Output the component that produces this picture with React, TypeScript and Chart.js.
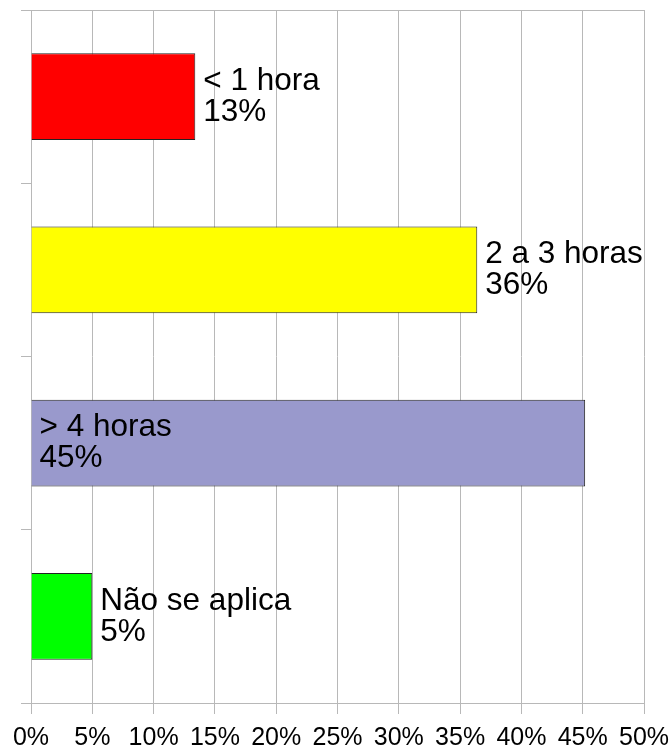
import React, { useEffect, useRef } from "react";
import { Chart, registerables } from "chart.js";

Chart.register(...registerables);

const categories = ["< 1 hora", "2 a 3 horas", "> 4 horas", "Não se aplica"];
const values = [13.4, 36.4, 45.2, 5.0];
const barColors = ["#ff0000", "#ffff00", "#9999cc", "#00ff00"];
const xTicks = [0, 5, 10, 15, 20, 25, 30, 35, 40, 45, 50];

const FONT = "'Liberation Sans', Arial, sans-serif";
const GRID = "#b8b8b8";
const VIEW_W = 672;
const VIEW_H = 746;

const labelPlugin = {
  id: "barLabels",
  afterDatasetsDraw(chart: any) {
    const ctx = chart.ctx;
    const meta = chart.getDatasetMeta(0);
    ctx.save();
    ctx.font = `31.5px ${FONT}`;
    ctx.fillStyle = "#000";
    ctx.textBaseline = "middle";
    ctx.textAlign = "left";
    meta.data.forEach((bar: any, i: number) => {
      const lines = [categories[i], Math.round(values[i]) + "%"];
      const w = Math.max(...lines.map((l) => ctx.measureText(l).width));
      let x = bar.x + 8;
      if (x + w > VIEW_W) x = bar.base + 8;
      const lh = 31;
      lines.forEach((l, k) => {
        ctx.fillText(l, x, bar.y - lh / 2 + k * lh);
      });
    });
    ctx.restore();
  },
};

export default function App() {
  const ref = useRef<HTMLCanvasElement>(null);
  useEffect(() => {
    if (!ref.current) return;
    const chart = new Chart(ref.current, {
      type: "bar",
      data: {
        labels: categories,
        datasets: [
          {
            data: values,
            backgroundColor: barColors,
            borderColor: "#222",
            borderWidth: 1,
            barPercentage: 0.5,
            categoryPercentage: 1,
          },
        ],
      },
      options: {
        indexAxis: "y",
        animation: false,
        responsive: false,
        maintainAspectRatio: false,
        layout: { padding: { left: 21, right: 28, top: 10, bottom: 0 } },
        plugins: { legend: { display: false }, tooltip: { enabled: false } },
        scales: {
          x: {
            min: 0,
            max: 50,
            afterBuildTicks: (scale: any) => {
              scale.ticks = xTicks.map((v) => ({ value: v }));
            },
            afterFit: (scale: any) => {
              scale.paddingRight = 0;
              scale.paddingLeft = 0;
            },
            grid: { color: GRID, tickLength: 11, tickColor: GRID, lineWidth: 1 },
            border: { color: GRID },
            ticks: {
              callback: (v: any) => v + "%",
              color: "#000",
              font: { family: FONT, size: 25, lineHeight: 1 },
              padding: 12,
              maxRotation: 0,
              autoSkip: false,
            },
          },
          y: {
            offset: true,
            grid: {
              offset: true,
              tickLength: 10,
              tickColor: GRID,
              color: (c: any) =>
                c.index === 0 || c.index === categories.length ? GRID : "rgba(0,0,0,0)",
            },
            border: { color: GRID },
            ticks: { display: false },
          },
        },
      },
      plugins: [labelPlugin],
    } as any);
    return () => chart.destroy();
  }, []);
  return (
    <div
      style={{
        position: "absolute",
        left: 0,
        top: 0,
        width: VIEW_W,
        height: VIEW_H,
        overflow: "hidden",
      }}
    >
      <canvas ref={ref} width={672} height={763} style={{ display: "block" }} />
    </div>
  );
}
